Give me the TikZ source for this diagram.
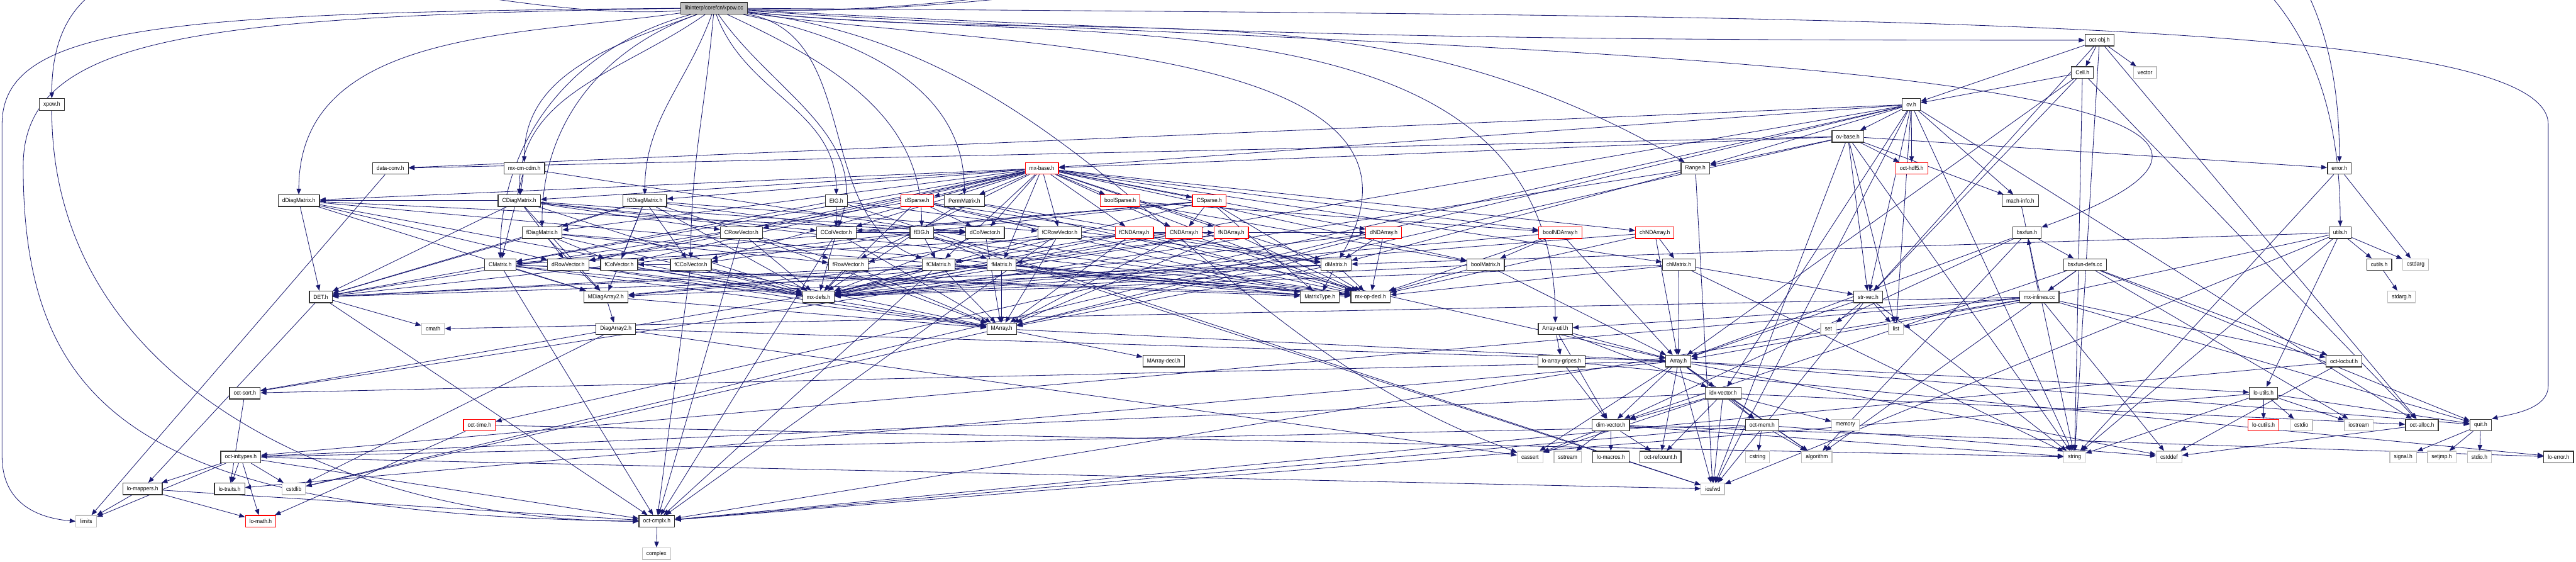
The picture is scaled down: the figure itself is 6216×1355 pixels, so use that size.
\documentclass[tikz,border=0pt]{standalone}
\usepackage{fontspec}
\newfontfamily\nf[FakeStretch=0.92]{Liberation Sans}
\usetikzlibrary{arrows.meta}
\definecolor{edgeblue}{RGB}{25,25,112}
\definecolor{sysgray}{RGB}{191,191,191}
\pgfdeclarelayer{bg}
\pgfsetlayers{bg,main}
\newcommand\myedges[2]{\foreach \t in {#2} {\draw[dep] (#1) -- (\t);}}
\begin{document}
\begin{tikzpicture}[x=0.005cm,y=-0.005cm,
  nd/.style={draw=black!80, fill=white, line width=0.28pt, inner xsep=0.05cm, inner ysep=0pt, minimum height=0.14cm, font=\nf\fontsize{2pt}{2.25pt}\selectfont},
  sys/.style={nd, draw=sysgray},
  rd/.style={nd, draw=red},
  rootnd/.style={nd, fill=sysgray},
  dep/.style={draw=edgeblue, line width=0.18pt, -{Triangle[length=0.07cm,width=0.055cm]}}]
\useasboundingbox (0,0) rectangle (6216,1355);
\node[rootnd] (xpowcc) at (1723,20) {libinterp/corefcn/xpow.cc};
\node[nd] (octobj) at (5066,97) {oct-obj.h};
\node[nd] (cell) at (5025,175) {Cell.h};
\node[sys] (vector) at (5176,175) {vector};
\node[nd] (xpowh) at (125,252) {xpow.h};
\node[nd] (ovh) at (4612,252) {ov.h};
\node[nd] (ovbase) at (4459,329) {ov-base.h};
\node[nd] (dataconv) at (942,406) {data-conv.h};
\node[nd] (mxcmcdm) at (1265,406) {mx-cm-cdm.h};
\node[rd] (mxbase) at (2514,406) {mx-base.h};
\node[nd] (range) at (4091,406) {Range.h};
\node[rd] (octhdf) at (4613,406) {oct-hdf5.h};
\node[nd] (errorh) at (5645,406) {error.h};
\node[nd] (dDiag) at (721,484) {dDiagMatrix.h};
\node[nd] (CDiag) at (1253,484) {CDiagMatrix.h};
\node[nd] (fCDiag) at (1556,484) {fCDiagMatrix.h};
\node[nd] (EIG) at (2018,484) {EIG.h};
\node[rd] (dSparse) at (2213,484) {dSparse.h};
\node[nd] (Perm) at (2327,484) {PermMatrix.h};
\node[rd] (boolSparse) at (2703,484) {boolSparse.h};
\node[rd] (CSparse) at (2918,484) {CSparse.h};
\node[nd] (machinfo) at (4875,484) {mach-info.h};
\node[nd] (fDiag) at (1308,561) {fDiagMatrix.h};
\node[nd] (CRow) at (1789,561) {CRowVector.h};
\node[nd] (CCol) at (2018,561) {CColVector.h};
\node[nd] (fEIG) at (2224,561) {fEIG.h};
\node[nd] (dCol) at (2377,561) {dColVector.h};
\node[nd] (fCRow) at (2557,561) {fCRowVector.h};
\node[rd] (fCND) at (2737,561) {fCNDArray.h};
\node[rd] (CND) at (2857,561) {CNDArray.h};
\node[rd] (fND) at (2971,561) {fNDArray.h};
\node[rd] (dND) at (3339,561) {dNDArray.h};
\node[rd] (boolND) at (3765,561) {boolNDArray.h};
\node[rd] (chND) at (3993,561) {chNDArray.h};
\node[nd] (bsxfun) at (4891,561) {bsxfun.h};
\node[nd] (utils) at (5647,561) {utils.h};
\node[nd] (CMat) at (1207,638) {CMatrix.h};
\node[nd] (dRow) at (1371,638) {dRowVector.h};
\node[nd] (fCol) at (1494,638) {fColVector.h};
\node[nd] (fCCol) at (1667,638) {fCColVector.h};
\node[nd] (fRow) at (2047,638) {fRowVector.h};
\node[nd] (fCMat) at (2265,638) {fCMatrix.h};
\node[nd] (fMat) at (2417,638) {fMatrix.h};
\node[nd] (dMat) at (3224,638) {dMatrix.h};
\node[nd] (boolMat) at (3585,638) {boolMatrix.h};
\node[nd] (chMat) at (4051,638) {chMatrix.h};
\node[nd] (bsxdefs) at (5031,638) {bsxfun-defs.cc};
\node[nd] (cutils) at (5741,638) {cutils.h};
\node[sys] (cstdarg) at (5829,638) {cstdarg};
\node[nd] (DET) at (774,716) {DET.h};
\node[nd] (MDiag) at (1462,716) {MDiagArray2.h};
\node[nd] (mxdefs) at (1975,716) {mx-defs.h};
\node[nd] (MatType) at (3185,716) {MatrixType.h};
\node[nd] (mxop) at (3307,716) {mx-op-decl.h};
\node[nd] (strvec) at (4508,716) {str-vec.h};
\node[nd] (mxinl) at (4921,716) {mx-inlines.cc};
\node[sys] (stdargh) at (5795,716) {stdarg.h};
\node[sys] (cmath) at (1045,793) {cmath};
\node[nd] (Diag2) at (1486,793) {DiagArray2.h};
\node[nd] (MArray) at (2417,793) {MArray.h};
\node[nd] (Arrutil) at (3753,793) {Array-util.h};
\node[sys] (set) at (4412,793) {set};
\node[sys] (list) at (4575,793) {list};
\node[nd] (MArrdecl) at (2808,871) {MArray-decl.h};
\node[nd] (gripes) at (3768,871) {lo-array-gripes.h};
\node[nd] (Array) at (4050,871) {Array.h};
\node[nd] (locbuf) at (5656,871) {oct-locbuf.h};
\node[nd] (octsort) at (591,948) {oct-sort.h};
\node[nd] (idx) at (4158,948) {idx-vector.h};
\node[nd] (loutils) at (5462,948) {lo-utils.h};
\node[rd] (octtime) at (1157,1025) {oct-time.h};
\node[nd] (dimvec) at (3887,1025) {dim-vector.h};
\node[nd] (octmem) at (4252,1025) {oct-mem.h};
\node[sys] (memory) at (4453,1025) {memory};
\node[rd] (locutils) at (5462,1025) {lo-cutils.h};
\node[sys] (cstdio) at (5553,1025) {cstdio};
\node[sys] (iostream) at (5692,1025) {iostream};
\node[nd] (octalloc) at (5844,1025) {oct-alloc.h};
\node[nd] (quit) at (5986,1025) {quit.h};
\node[nd] (inttypes) at (581,1102) {oct-inttypes.h};
\node[sys] (cassert) at (3692,1102) {cassert};
\node[sys] (sstream) at (3783,1102) {sstream};
\node[nd] (lomacros) at (3887,1102) {lo-macros.h};
\node[nd] (refcount) at (4007,1102) {oct-refcount.h};
\node[sys] (cstring) at (4241,1102) {cstring};
\node[sys] (algorithm) at (4384,1102) {algorithm};
\node[sys] (string) at (5006,1102) {string};
\node[sys] (cstddef) at (5234,1102) {cstddef};
\node[sys] (signal) at (5799,1102) {signal.h};
\node[sys] (setjmp) at (5892,1102) {setjmp.h};
\node[sys] (stdio) at (5983,1102) {stdio.h};
\node[nd] (loerror) at (6174,1102) {lo-error.h};
\node[nd] (lomappers) at (344,1179) {lo-mappers.h};
\node[nd] (lotraits) at (554,1179) {lo-traits.h};
\node[sys] (cstdlib) at (709,1179) {cstdlib};
\node[sys] (iosfwd) at (4133,1179) {iosfwd};
\node[sys] (limits) at (208,1257) {limits};
\node[rd] (lomath) at (629,1257) {lo-math.h};
\node[nd] (octcmplx) at (1585,1257) {oct-cmplx.h};
\node[sys] (complex) at (1584,1335) {complex};

\begin{pgfonlayer}{bg}
% fan-out of the root file
\draw[dep] (xpowcc.west) .. controls (400,30) and (5,60) .. (5,300) -- (5,1100) .. controls (5,1220) and (100,1250) .. (limits.west);
\draw[dep] (xpowcc.west) .. controls (500,40) and (56,80) .. (56,400) .. controls (56,1000) and (350,1240) .. (octcmplx.west);
\draw[dep] (xpowcc) to[out=184,in=90] (xpowh);
\draw[dep] (xpowcc) to[out=188,in=90] (dDiag);
\draw[dep] (xpowcc) to[out=200,in=90] (mxcmcdm);
\draw[dep] (xpowcc) to[out=215,in=90] (CDiag);
\draw[dep] (xpowcc) to[out=200,in=90] (fDiag);
\draw[dep] (xpowcc) to[out=195,in=90] (CMat);
\draw[dep] (xpowcc) to[out=-110,in=90] (fCDiag);
\draw[dep] (xpowcc) to[out=-95,in=90] (fCCol);
\draw[dep] (xpowcc) to[out=-70,in=90] (EIG);
\draw[dep] (xpowcc) to[out=-55,in=70] (CCol);
\draw[dep] (xpowcc) to[out=-25,in=90] (fEIG);
\draw[dep] (xpowcc) to[out=-12,in=90] (Perm);
\draw[dep] (xpowcc) to[out=-10,in=160] (fCMat);
\draw[dep] (xpowcc) to[out=-8,in=60] (dMat);
\draw[dep] (xpowcc) to[out=-6,in=150] (range);
\draw[dep] (xpowcc) to[out=-6,in=90] (Arrutil);
\draw[dep] (xpowcc) to[out=-7,in=160] (cassert);
\draw[dep] (xpowcc) to[out=-3,in=180] (octobj);
\draw[dep] (xpowcc) to[out=-2,in=90] (errorh);
\draw[dep] (xpowcc) to[out=-2,in=90] (utils);
\draw[dep] (xpowcc) to[out=-4,in=20] (bsxfun);
\draw[dep] (xpowcc.east) .. controls (4500,40) and (6149,40) .. (6149,300) -- (6149,930) .. controls (6149,990) and (6050,1000) .. (quit.north east);
\draw[dep] (xpowh) to[out=-90,in=180] (octcmplx);
% other includes
\myedges{octobj}{string,vector,octalloc,strvec,cell,ovh}
\myedges{cell}{string,Array,octalloc,strvec,ovh}
\myedges{ovh}{cstdlib,iosfwd,string,list,range,dataconv,idx,machinfo,mxbase,octalloc,octtime,strvec,octhdf,octsort,ovbase}
\myedges{ovbase}{cstdlib,iosfwd,list,string,range,dataconv,mxbase,strvec,errorh,octhdf,machinfo}
\myedges{dataconv}{limits}
\myedges{machinfo}{string}
\myedges{errorh}{cstdarg,string}
\myedges{utils}{cstdarg,iosfwd,string,list,dMat,loutils,cutils}
\myedges{cutils}{stdargh}
\myedges{bsxfun}{algorithm,Array,dimvec,bsxdefs}
\myedges{bsxdefs}{algorithm,iostream,dimvec,locbuf,quit,mxinl}
\myedges{mxinl}{cstddef,cmath,quit,octcmplx,locbuf,inttypes,Array,Arrutil,bsxfun}
\myedges{mxcmcdm}{mxop,CMat,CDiag}
\myedges{CDiag}{MDiag,dRow,CRow,dCol,CCol,DET,mxdefs,mxop,dDiag}
\myedges{dDiag}{MDiag,dRow,dCol,DET,mxdefs,mxop}
\myedges{fCDiag}{MDiag,fRow,fCRow,fCol,fCCol,DET,mxdefs,fDiag,mxop}
\myedges{fDiag}{MDiag,fRow,fCol,DET,mxdefs,mxop}
\myedges{EIG}{iosfwd,dMat,CMat,CCol}
\myedges{fEIG}{iosfwd,fMat,fCMat,fCCol}
\myedges{CRow}{MArray,dRow,mxdefs,octcmplx}
\myedges{CCol}{MArray,dCol,mxdefs,octcmplx}
\myedges{dRow}{MArray,mxdefs}
\myedges{dCol}{MArray,mxdefs}
\myedges{fRow}{MArray,mxdefs}
\myedges{fCol}{MArray,mxdefs}
\myedges{fCRow}{MArray,fRow,mxdefs,octcmplx}
\myedges{fCCol}{MArray,fCol,mxdefs,octcmplx}
\myedges{CMat}{MArray,MDiag,MatType,mxdefs,mxop,octcmplx,DET}
\myedges{dMat}{MArray,MDiag,MatType,mxdefs,mxop,DET}
\myedges{fCMat}{MArray,MDiag,MatType,mxdefs,mxop,octcmplx,DET}
\myedges{fMat}{MArray,MDiag,MatType,mxdefs,mxop,DET}
\myedges{mxbase}{boolMat,chMat,dMat,CMat,fMat,fCMat,dCol,CCol,fCol,fCCol,dRow,CRow,fRow,fCRow,dDiag,CDiag,fDiag,fCDiag,Perm,boolSparse,dSparse,CSparse,boolND,chND,dND,CND,fND,fCND}
\myedges{dSparse}{dMat,dCol,MatType,mxop,DET,mxdefs}
\myedges{CSparse}{CMat,CCol,CND,MatType,mxop,DET,mxdefs}
\myedges{boolSparse}{boolMat,boolND,mxop}
\myedges{Perm}{Array,mxdefs,dMat}
\myedges{fCND}{MArray,fCMat,mxdefs,mxop,fND}
\myedges{CND}{MArray,CMat,mxdefs,mxop,dND}
\myedges{fND}{MArray,fMat,mxdefs,mxop}
\myedges{dND}{MArray,dMat,mxdefs,mxop}
\myedges{boolND}{Array,boolMat,mxdefs,mxop}
\myedges{chND}{Array,chMat,mxdefs,mxop}
\myedges{boolMat}{Array,mxdefs,mxop}
\myedges{chMat}{Array,mxdefs,mxop,strvec,string}
\myedges{range}{iosfwd,dMat,octsort}
\myedges{MDiag}{Diag2,MArray}
\myedges{Diag2}{cassert,cstdlib,Array}
\myedges{MArray}{Array,MArrdecl}
\myedges{Arrutil}{Array,dimvec,idx,gripes}
\myedges{gripes}{dimvec,loerror}
\myedges{Array}{cassert,cstddef,algorithm,iosfwd,dimvec,idx,lotraits,loutils,octsort,quit,octmem,refcount}
\myedges{idx}{cassert,algorithm,iosfwd,memory,dimvec,inttypes,octalloc,octmem,refcount}
\myedges{dimvec}{cassert,sstream,string,loerror,lomacros,refcount}
\myedges{octmem}{cstddef,cstring,algorithm,octcmplx,inttypes}
\myedges{strvec}{iosfwd,list,set,string,Array}
\myedges{octsort}{lotraits}
\myedges{inttypes}{cstdlib,limits,iosfwd,lotraits,lomath,octcmplx,lomappers}
\myedges{lomappers}{limits,octcmplx,lomath}
\myedges{octcmplx}{complex}
\myedges{DET}{cmath,octcmplx,lomappers}
\myedges{loutils}{cstdio,iostream,string,quit,locutils,octcmplx}
\myedges{locbuf}{cstddef,octcmplx}
\myedges{octalloc}{cstddef}
\myedges{quit}{stdio,signal,setjmp}
\myedges{octtime}{lomath,string}
\end{pgfonlayer}
\end{tikzpicture}
\end{document}
